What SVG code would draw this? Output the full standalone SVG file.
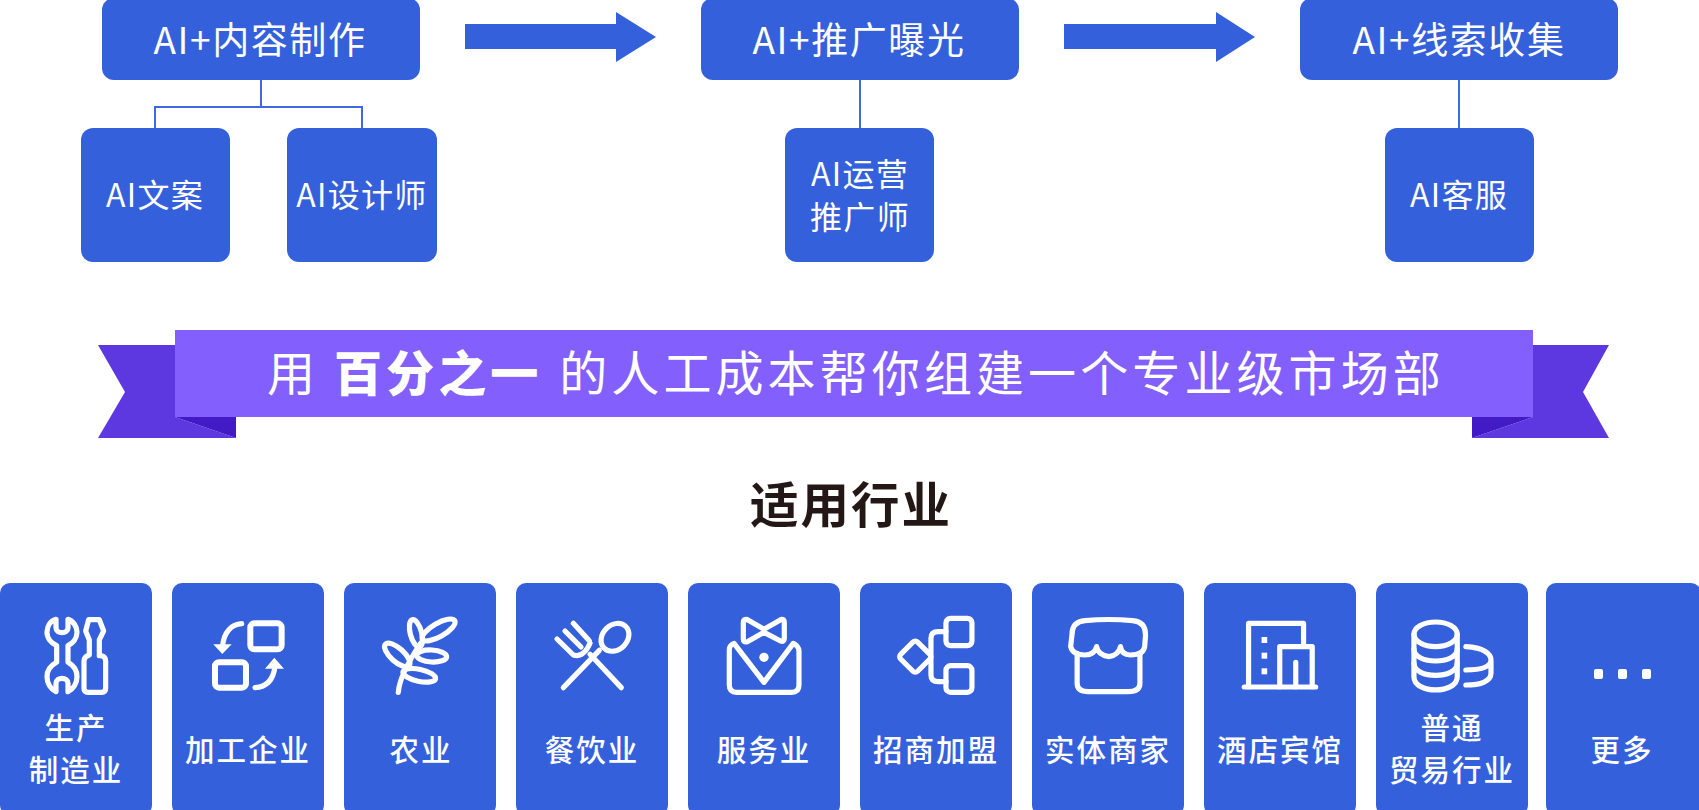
<svg xmlns="http://www.w3.org/2000/svg" width="1699" height="810" viewBox="0 0 1699 810">
<style>
.box{fill:#3560dc}
text{font-family:"Noto Sans CJK SC","Noto Sans",sans-serif;fill:#fff;text-anchor:middle}
.t1{font-size:37px;letter-spacing:1.6px;font-weight:400}
.t2{font-size:32px;letter-spacing:1.3px;font-weight:400}
.t3{font-size:29.5px;letter-spacing:2px;font-weight:500}
.ban{font-size:48px;letter-spacing:4.1px;text-anchor:start;font-weight:400}
.ban .b{font-weight:900}
.ttl{font-size:48.5px;font-weight:700;letter-spacing:2px;fill:#231815}
.ic{fill:none;stroke:#fff;stroke-width:5.2;stroke-linecap:round;stroke-linejoin:round}
.ic *{vector-effect:non-scaling-stroke}
.fl{fill:#fff;stroke:none}
.conn{fill:none;stroke:#3f69e0;stroke-width:2}
</style>
<g id="connectors">
<path class="conn" d="M261 80V107M155 128V107H362V128M860 80V128M1459 80V128"/>
<path class="box" d="M465 24H616V12L656 37L616 62V49H465Z"/>
<path class="box" d="M1064 24H1216V12L1255 37L1216 62V49H1064Z"/>
</g>
<g id="n-content"><rect class="box" x="102" y="-2" width="318" height="82" rx="12"/><text class="t1" x="260" y="54">AI+内容制作</text></g>
<g id="n-promo"><rect class="box" x="701" y="-2" width="318" height="82" rx="12"/><text class="t1" x="859" y="54">AI+推广曝光</text></g>
<g id="n-leads"><rect class="box" x="1300" y="-2" width="318" height="82" rx="12"/><text class="t1" x="1459" y="54">AI+线索收集</text></g>
<g id="n-copy"><rect class="box" x="81" y="128" width="149" height="134" rx="12"/><text class="t2" x="155" y="207">AI文案</text></g>
<g id="n-design"><rect class="box" x="287" y="128" width="150" height="134" rx="12"/><text class="t2" x="362" y="207">AI设计师</text></g>
<g id="n-ops"><rect class="box" x="785" y="128" width="149" height="134" rx="12"/><text class="t2" x="860" y="186">AI运营</text><text class="t2" x="860" y="229">推广师</text></g>
<g id="n-service"><rect class="box" x="1385" y="128" width="149" height="134" rx="12"/><text class="t2" x="1459" y="207">AI客服</text></g>

<g id="banner">
<path fill="#5d37e0" d="M98 345H175V417L236 438H98L125 392Z"/>
<path fill="#431bc6" d="M175 417H236V438Z"/>
<path fill="#5d37e0" d="M1609 345H1533V417L1472 438H1609L1583 392Z"/>
<path fill="#431bc6" d="M1533 417H1472V438Z"/>
<rect fill="#835ffd" x="175" y="330" width="1358" height="87"/>
<text class="ban" x="267" y="391" xml:space="preserve">用 <tspan class="b">百分之一</tspan> <tspan dx="2">的人工成本帮你组建一个专业级市场部</tspan></text>
</g>
<g id="title"><text class="ttl" x="851" y="523">适用行业</text></g>

<g id="c1"><rect class="box" x="0" y="583" width="152" height="232" rx="10"/>
<g class="ic" transform="translate(0,575) scale(.3333)">
<path d="M168 133C150 138 141 155 141 172C141 190 155 205 170 212V262C155 270 141 285 141 305C141 325 152 343 168 350V325C168 305 204 305 204 325V350C220 343 231 325 231 305C231 285 218 270 204 262V212C218 205 231 190 231 172C231 155 220 138 204 133V158C204 178 168 178 168 158Z"/>
<path d="M266 134H298L311 168L298 195V242H305Q317 245 317 258V340Q317 352 305 352H264Q252 352 252 340V258Q252 245 268 240V195L257 168Z"/>
</g>
<text class="t3" x="76" y="739">生产</text><text class="t3" x="76" y="781">制造业</text></g>

<g id="c2"><rect class="box" x="172" y="583" width="152" height="232" rx="10"/>
<g class="ic" transform="translate(0,575) scale(.3333)">
<rect x="751" y="145" width="94" height="78" rx="12" style="stroke-width:6"/>
<rect x="645" y="262" width="93" height="76" rx="12" style="stroke-width:6"/>
<path d="M725 146C695 148 672 170 668 212"/>
<path class="fl" d="M640 208H695L667 237Z"/>
<path d="M765 338C800 336 820 315 825 275"/>
<path class="fl" d="M795 281H852L823 248Z"/>
</g>
<text class="t3" x="248" y="761">加工企业</text></g>

<g id="c3"><rect class="box" x="344" y="583" width="152" height="232" rx="10"/>
<g class="ic" transform="translate(0,575) scale(.3333)">
<path d="M1195 352C1198 310 1225 260 1262 205"/>
<ellipse cx="1248" cy="175" rx="17" ry="42" transform="rotate(-15 1248 175)"/>
<ellipse cx="1316" cy="165" rx="56" ry="20" transform="rotate(-30 1316 165)"/>
<ellipse cx="1192" cy="240" rx="48" ry="20" transform="rotate(42 1192 240)"/>
<ellipse cx="1295" cy="243" rx="45" ry="18" transform="rotate(3 1295 243)"/>
<ellipse cx="1258" cy="301" rx="50" ry="18" transform="rotate(12 1258 301)"/>
</g>
<text class="t3" x="421" y="761">农业</text></g>

<g id="c4"><rect class="box" x="516" y="583" width="152" height="232" rx="10"/>
<g class="ic" transform="translate(510,575) scale(.3333)">
<path d="M190 145L238 197M165 168L213 216M141 192L190 240C205 245 225 240 240 205"/>
<path d="M240 238L334 338M160 338L268 226"/>
<ellipse cx="315" cy="187" rx="46" ry="37" transform="rotate(-45 315 187)"/>
</g>
<text class="t3" x="592" y="761">餐饮业</text></g>

<g id="c5"><rect class="box" x="688" y="583" width="152" height="232" rx="10"/>
<g class="ic" transform="translate(510,575) scale(.3333)">
<path d="M710 133L762 163L815 133Q823 133 823 143V190Q823 202 812 198L762 172L712 200Q700 204 700 192V143Q700 133 710 133Z"/>
<path d="M672 205L762 322L850 205Q868 215 867 230V330Q867 352 845 352H680Q658 352 658 330V225Q658 210 672 205Z"/>
<circle class="fl" cx="762" cy="247" r="14"/>
</g>
<text class="t3" x="764" y="761">服务业</text></g>

<g id="c6"><rect class="box" x="860" y="583" width="152" height="232" rx="10"/>
<g class="ic" transform="translate(510,575) scale(.3333)">
<rect x="1180" y="209" width="72" height="72" rx="10" transform="rotate(45 1216 245)"/>
<rect x="1308" y="130" width="78" height="82" rx="14"/>
<rect x="1308" y="272" width="78" height="80" rx="14"/>
<path d="M1308 170H1285Q1263 170 1263 190V300Q1263 320 1285 320H1308"/>
</g>
<text class="t3" x="936" y="761">招商加盟</text></g>

<g id="c7"><rect class="box" x="1032" y="583" width="152" height="232" rx="10"/>
<g class="ic" transform="translate(1020,575) scale(.4329,.3333)">
<path d="M120 180Q120 140 150 137Q205 130 260 137Q290 140 290 180L288 215Q285 240 255 240Q235 240 232 215Q228 240 205 245Q180 240 177 215Q172 240 150 240Q122 240 117 215Z"/>
<path d="M132 235V325Q132 350 158 350H250Q277 350 277 325V235"/>
</g>
<text class="t3" x="1108" y="761">实体商家</text></g>

<g id="c8"><rect class="box" x="1204" y="583" width="152" height="232" rx="10"/>
<g class="ic" transform="translate(1020,575) scale(.4329,.3333)">
<path d="M528 335V145H655V210M600 335V215H675V335M637 335V262"/>
<path d="M518 336H683"/>
<rect class="fl" x="558" y="186" width="13" height="18"/>
<rect class="fl" x="558" y="233" width="13" height="18"/>
<rect class="fl" x="558" y="280" width="13" height="18"/>
</g>
<text class="t3" x="1280" y="761">酒店宾馆</text></g>

<g id="c9"><rect class="box" x="1376" y="583" width="152" height="232" rx="10"/>
<g class="ic" transform="translate(1020,575) scale(.4329,.3333)">
<ellipse cx="960" cy="178" rx="50" ry="37"/>
<path d="M910 178V305C910 358 1010 358 1010 305V178"/>
<path d="M910 222C910 270 1010 270 1010 222M910 265C910 313 1010 313 1010 265"/>
<path d="M1030 215C1070 218 1088 235 1088 255V295C1088 318 1065 330 1030 330M1030 285C1065 285 1085 275 1088 258"/>
</g>
<text class="t3" x="1452" y="739">普通</text><text class="t3" x="1452" y="781">贸易行业</text></g>

<g id="c10"><rect class="box" x="1546" y="583" width="155" height="232" rx="10"/>
<rect class="fl" x="1594" y="669" width="9" height="10" rx="2"/><rect class="fl" x="1618" y="669" width="9" height="10" rx="2"/><rect class="fl" x="1642" y="669" width="9" height="10" rx="2"/>
<text class="t3" x="1622" y="761">更多</text></g>
</svg>
